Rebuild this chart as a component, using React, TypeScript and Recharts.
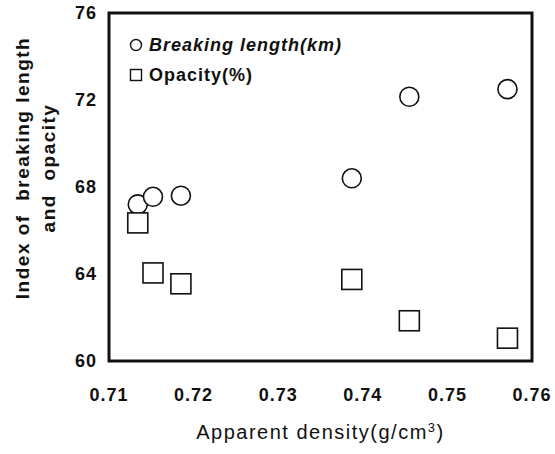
import React from "react";
import { ScatterChart, Scatter, XAxis, YAxis, ReferenceArea, Legend } from "recharts";

// apparent density (g/cm3) of the six sheets
const density = [0.7134, 0.7152, 0.7185, 0.7387, 0.7455, 0.7571];
const breakingLength = [67.2, 67.55, 67.6, 68.4, 72.15, 72.5];
const opacity = [66.35, 64.05, 63.55, 63.75, 61.85, 61.05];

const xTicks = [0.71, 0.72, 0.73, 0.74, 0.75, 0.76];
const yTicks = [60, 64, 68, 72, 76];

const FONT = '"Liberation Sans", Arial, Helvetica, sans-serif';
const INK = "#111";

const breakingData = density.map((x, i) => ({ x, y: breakingLength[i] }));
const opacityData = density.map((x, i) => ({ x, y: opacity[i] }));

const CircleMark = (p: any) => (
  <circle cx={p.cx} cy={p.cy} r={9.5} fill="#fff" stroke={INK} strokeWidth={1.6} />
);
const SquareMark = (p: any) => (
  <rect x={p.cx - 10} y={p.cy - 10} width={20} height={20} fill="#fff" stroke={INK} strokeWidth={1.6} />
);

function LegendBox() {
  const row: React.CSSProperties = {
    display: "flex", alignItems: "center", height: 30,
    fontFamily: FONT, fontWeight: "bold", fontSize: 18, color: INK, letterSpacing: 1,
  };
  return (
    <div>
      <div style={row}>
        <svg width={14} height={14} style={{ marginRight: 6 }}>
          <circle cx={7} cy={7} r={5.5} fill="#fff" stroke={INK} strokeWidth={1.4} />
        </svg>
        <span style={{ fontStyle: "italic" }}>Breaking length(km)</span>
      </div>
      <div style={row}>
        <svg width={14} height={14} style={{ marginRight: 6 }}>
          <rect x={1.5} y={1.5} width={11} height={11} fill="#fff" stroke={INK} strokeWidth={1.4} />
        </svg>
        <span>Opacity(%)</span>
      </div>
    </div>
  );
}

const tickStyle = { fontFamily: FONT, fontSize: 18, fontWeight: "bold", fill: INK, letterSpacing: 1 };

export default function App() {
  return (
    <div style={{ position: "absolute", left: 0, top: 0, background: "#fff" }}>
      <ScatterChart width={555} height={454} margin={{ top: 13, right: 23, bottom: 0, left: 0 }}>
        <XAxis
          type="number" dataKey="x" domain={[0.71, 0.76]} ticks={xTicks}
          tickFormatter={(v) => v.toFixed(2)}
          height={93} axisLine={false} tickLine={false} tickMargin={21}
          tick={tickStyle}
          label={(props: any) => {
            const vb = props.viewBox;
            return (
              <text x={vb.x + vb.width / 2} y={vb.y + 78} textAnchor="middle"
                style={{ fontFamily: FONT, fontSize: 20, fill: INK, letterSpacing: 1.5 }}>
                Apparent density(g/cm<tspan dy={-7} fontSize={13}>3</tspan><tspan dy={7}>)</tspan>
              </text>
            );
          }}
        />
        <YAxis
          type="number" dataKey="y" domain={[60, 76]} ticks={yTicks}
          width={109} axisLine={false} tickLine={false} tickMargin={6}
          tick={tickStyle}
          label={(props: any) => {
            const vb = props.viewBox;
            const cy = vb.y + 155;
            const st = { fontFamily: FONT, fontSize: 19, fontWeight: "bold", fill: INK, letterSpacing: 1.5, whiteSpace: "pre" } as any;
            return (
              <g>
                <text x={22} y={cy} transform={`rotate(-90 22 ${cy})`} textAnchor="middle" dominantBaseline="central" style={st}>
                  Index of  breaking length
                </text>
                <text x={48} y={cy} transform={`rotate(-90 48 ${cy})`} textAnchor="middle" dominantBaseline="central" style={st}>
                  and  opacity
                </text>
              </g>
            );
          }}
        />
        <ReferenceArea x1={0.71} x2={0.76} y1={60} y2={76} fill="none" stroke={INK} strokeWidth={3} isAnimationActive={false} />
        <Legend
          layout="vertical" align="center" verticalAlign="middle"
          wrapperStyle={{ left: 129, top: 30, width: "auto" }}
          content={() => <LegendBox />}
        />
        <Scatter name="Breaking length(km)" data={breakingData} shape={CircleMark} isAnimationActive={false} />
        <Scatter name="Opacity(%)" data={opacityData} shape={SquareMark} isAnimationActive={false} />
      </ScatterChart>
    </div>
  );
}
